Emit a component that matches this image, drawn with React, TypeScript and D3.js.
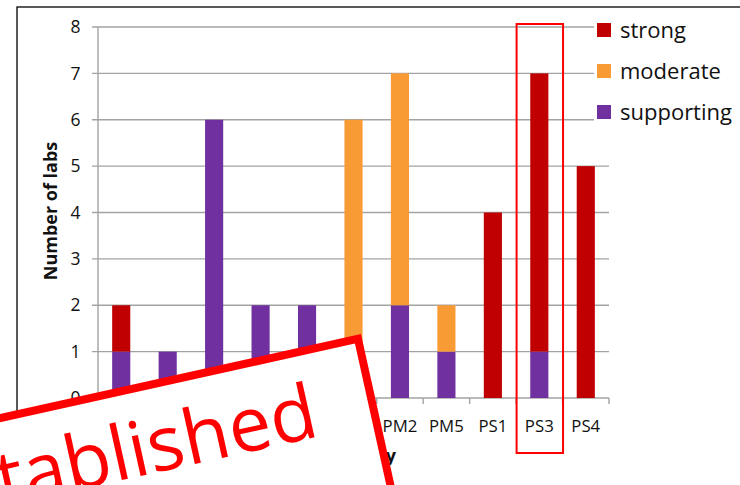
import React from "react";
import * as d3 from "d3";

const categories = ["PP1", "PP2", "PP3", "PP4", "PP5", "PM1", "PM2", "PM5", "PS1", "PS3", "PS4"];
const supporting = [1, 1, 6, 2, 2, 0, 2, 1, 0, 1, 0];
const moderate = [0, 0, 0, 0, 0, 6, 5, 1, 0, 0, 0];
const strong = [1, 0, 0, 0, 0, 0, 0, 0, 4, 6, 5];
const seriesKeys = ["supporting", "moderate", "strong"];
const legendKeys = ["strong", "moderate", "supporting"];
const yTicks = [0, 1, 2, 3, 4, 5, 6, 7, 8];
const highlighted = "PS3";
const yTitle = "Number of labs";
const xTitle = "Criteria category";
const stampText = "established";

const colors: Record<string, string> = {
  strong: "#C00000",
  moderate: "#F99B35",
  supporting: "#7030A0",
};

const FONT = "'Open Sans', 'Liberation Sans', sans-serif";

export default function App() {
  const W = 740;
  const H = 485;
  const x0 = 98, x1 = 609, yTop = 27, yBot = 398;

  const rows = categories.map((c, i) => ({
    cat: c,
    supporting: supporting[i],
    moderate: moderate[i],
    strong: strong[i],
  }));
  const stack = d3.stack<any>().keys(seriesKeys);
  const stacked = stack(rows);

  const x = d3.scaleBand<string>().domain(categories).range([x0, x1]).padding(0);
  const y = d3.scaleLinear().domain([0, 8]).range([yBot, yTop]);
  const barW = x.bandwidth() * 0.39;

  const boundaries = categories.map((c) => x(c)!).concat([x1]);

  const hx = x(highlighted)!;
  const angle = -12.5;

  return (
    <svg
      width={W}
      height={H}
      style={{ position: "absolute", left: 0, top: 0, display: "block", background: "#fff" }}
      fontFamily={FONT}
    >
      <rect x={0} y={0} width={W} height={H} fill="#fff" />
      {/* outer border */}
      <rect x={17} y={7} width={800} height={700} fill="none" stroke="#000" strokeWidth={1.3} />

      {/* gridlines */}
      {yTicks.map((t) => (
        <line key={"g" + t} x1={x0 - 6} x2={x1} y1={y(t)} y2={y(t)} stroke="#a3a3a3" strokeWidth={1.4} />
      ))}
      {/* y axis line */}
      <line x1={x0} x2={x0} y1={yTop} y2={yBot} stroke="#a3a3a3" strokeWidth={1.4} />
      {/* y tick labels */}
      {yTicks.map((t) => (
        <text key={"yl" + t} x={80.5} y={y(t) + 6.2} textAnchor="end" fontSize={17.5} fill="#111">
          {t}
        </text>
      ))}
      {/* x ticks */}
      {boundaries.map((b, i) => (
        <line key={"xt" + i} x1={b} x2={b} y1={yBot} y2={yBot + 6} stroke="#a3a3a3" strokeWidth={1.4} />
      ))}
      {/* bars */}
      {stacked.map((s) => (
        <g key={s.key} fill={colors[s.key]}>
          {s.map((d, i) =>
            d[1] - d[0] > 0 ? (
              <rect
                key={i}
                x={x(categories[i])! + x.bandwidth() / 2 - barW / 2}
                y={y(d[1])}
                width={barW}
                height={y(d[0]) - y(d[1])}
              />
            ) : null
          )}
        </g>
      ))}
      {/* x labels */}
      {categories.map((c) => (
        <text key={"xl" + c} x={x(c)! + x.bandwidth() / 2} y={432} textAnchor="middle" fontSize={16.8} fill="#111">
          {c}
        </text>
      ))}
      {/* axis titles */}
      <text
        transform={`translate(57,211) rotate(-90)`}
        textAnchor="middle"
        fontSize={18}
        fontWeight="bold"
        fill="#111"
      >
        {yTitle}
      </text>
      <text x={396} y={462} textAnchor="end" fontSize={18} fontWeight="bold" fill="#111">
        {xTitle}
      </text>

      {/* highlight box */}
      <rect x={hx + 0.5} y={24} width={x.bandwidth()} height={429} fill="none" stroke="#FF0000" strokeWidth={2} />

      {/* legend */}
      <rect x={594} y={12} width={146} height={120} fill="#fff" />
      {legendKeys.map((k, i) => (
        <g key={k} transform={`translate(597,${23 + i * 41})`}>
          <rect x={0} y={0} width={14} height={14} fill={colors[k]} />
          <text x={23} y={15} fontSize={22} fill="#111">
            {k}
          </text>
        </g>
      ))}

      {/* stamp */}
      <g transform={`translate(361,334) rotate(${angle})`}>
        <rect x={-700} y={4} width={696} height={400} fill="#fff" stroke="#FF0000" strokeWidth={8} />
      </g>
      <g transform={`translate(321,436) rotate(${angle})`}>
        <text x={0} y={0} textAnchor="end" fontSize={76} fill="#FF0000">
          {stampText}
        </text>
      </g>
    </svg>
  );
}
